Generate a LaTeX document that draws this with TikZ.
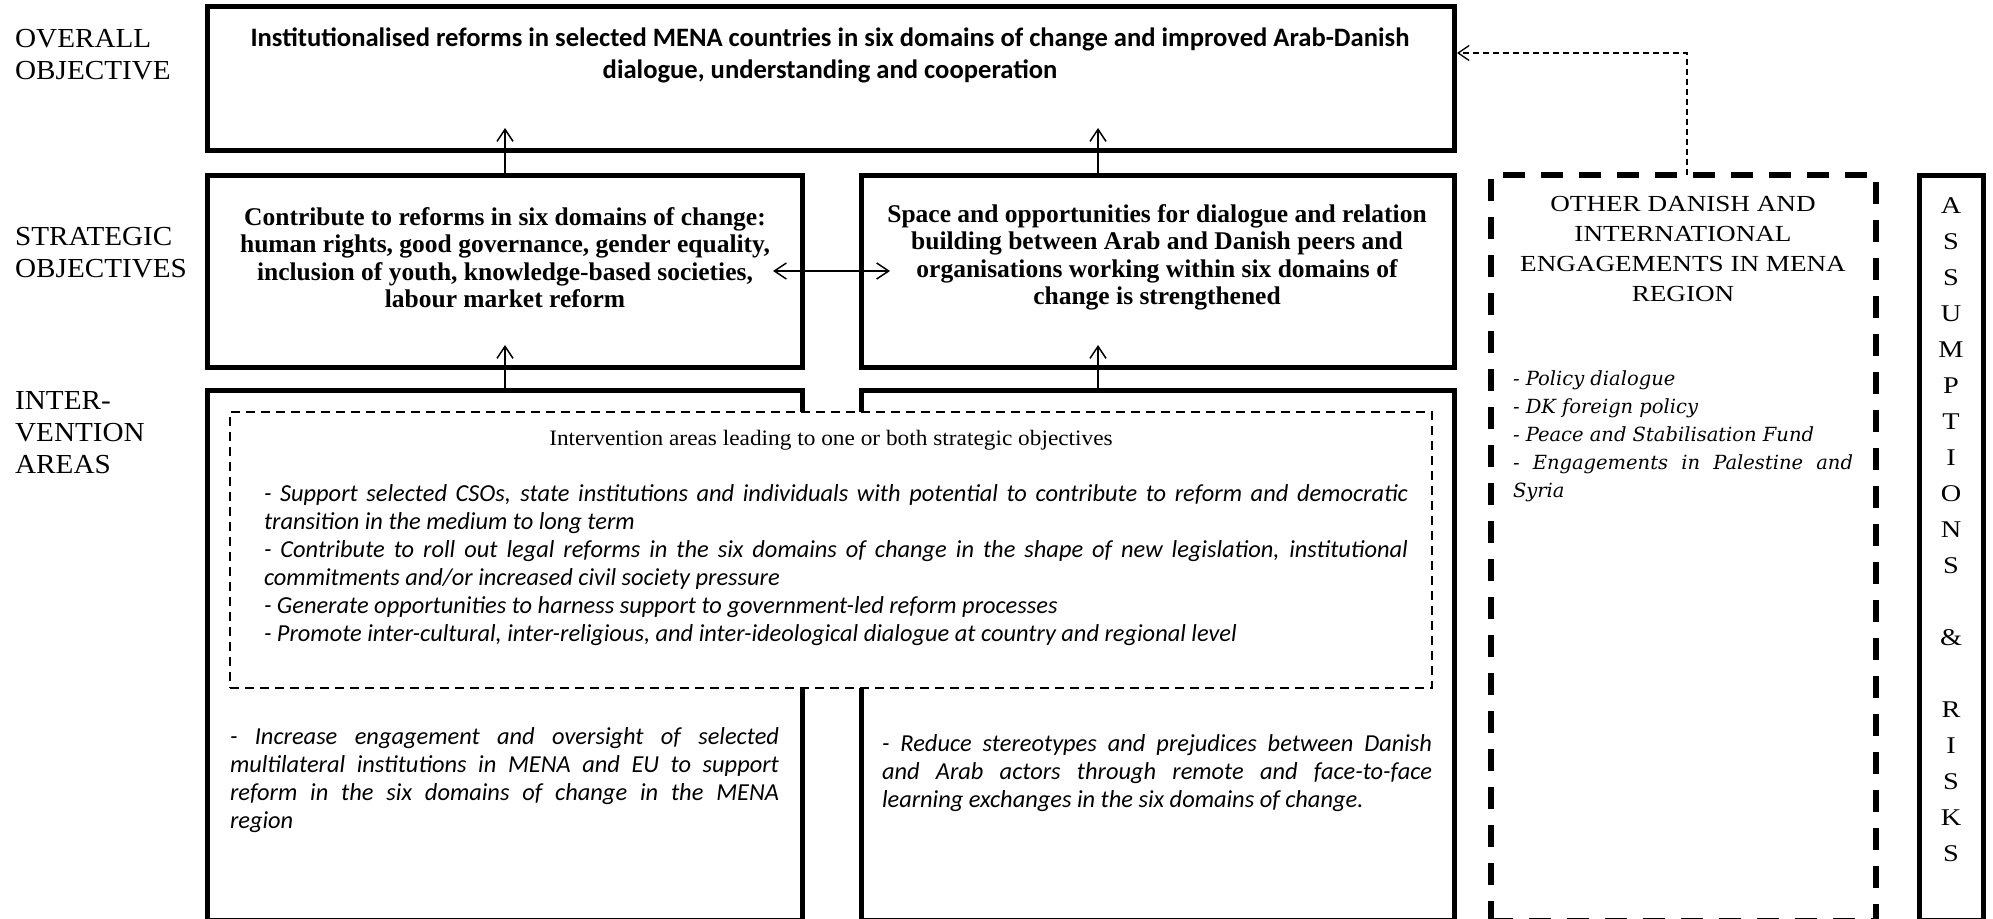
\documentclass[tikz,border=0pt]{standalone}
\usepackage{fontspec}
\setmainfont{Liberation Serif}
\newfontfamily\calfont{Carlito}
\newfontfamily\labfont{Liberation Serif}[FakeStretch=1.06]
\newfontfamily\headfont{Liberation Serif}[FakeStretch=1.06]
\newfontfamily\capfont{Liberation Serif}[FakeStretch=1.18]
\newfontfamily\listfont{DejaVu Serif}
\usetikzlibrary{arrows.meta,calc}
\setlength\parindent{0pt}
\hyphenpenalty=10000
\exhyphenpenalty=10000
\tolerance=9999

\begin{document}
\begin{tikzpicture}[x=1pt,y=-1pt,
  frame/.style={draw, line width=5pt, inner sep=0pt, outer sep=0pt, anchor=north west},
  dashframe/.style={draw, line width=2pt, dash pattern=on 9pt off 6pt, fill=white, inner sep=0pt, outer sep=0pt, anchor=north west},
  bigdash/.style={draw, line width=5.5pt, dash pattern=on 22pt off 16pt, inner sep=0pt, outer sep=0pt, anchor=north west},
  arr/.style={line width=1.5pt, -{Straight Barb[length=12pt,width=16pt,line width=1.5pt]}},
  arrboth/.style={line width=1.5pt, {Straight Barb[length=12pt,width=16pt,line width=1.5pt]}-{Straight Barb[length=12pt,width=16pt,line width=1.5pt]}},
  dconn/.style={line width=1.3pt, dash pattern=on 6pt off 4pt, -{Straight Barb[length=11pt,width=15pt,line width=1.3pt]}, shorten >=3pt},
  lab/.style={anchor=west, align=left, inner sep=0pt, font=\labfont\fontsize{27.5}{32}\selectfont},
  boldtxt/.style={align=center, inner sep=0pt, font=\calfont\bfseries\fontsize{26.6}{32}\selectfont},
  strtxt/.style={align=center, inner sep=0pt, font=\bfseries\fontsize{25.5}{27.5}\selectfont},
  ittxt/.style={align=justify, inner sep=0pt, font=\calfont\itshape\fontsize{24.4}{28}\selectfont},
  listtxt/.style={align=justify, inner sep=0pt, font=\listfont\itshape\fontsize{19.5}{28}\selectfont},
  captxt/.style={align=center, inner sep=0pt, font=\capfont\fontsize{23}{29.7}\selectfont}
]
\useasboundingbox (0,0) rectangle (1993,918);

% row labels
\node[lab] (l1) at (15,55) {OVERALL\\OBJECTIVE};
\node[lab] (l2) at (15,253) {STRATEGIC\\OBJECTIVES};
\node[lab] (l3) at (15,433) {INTER-\\VENTION\\AREAS};

% frames
\node[frame, minimum width=1247pt, minimum height=144pt] (ov) at (207,6) {};
\node[frame, minimum width=595pt, minimum height=192pt] (sl) at (207,175) {};
\node[frame, minimum width=593pt, minimum height=192pt] (sr) at (861,175) {};
\node[frame, minimum width=595pt, minimum height=530pt] (il) at (207,390) {};
\node[frame, minimum width=593pt, minimum height=530pt] (ir) at (861,390) {};
\node[dashframe, minimum width=1202pt, minimum height=276pt] (ia) at (230,412) {};
\node[bigdash, minimum width=385pt, minimum height=746pt] (ot) at (1491,175) {};
\node[frame, minimum width=64pt, minimum height=745pt] (as) at (1919,175) {};

% texts
\node[boldtxt] (ovt) at (830,55) {Institutionalised reforms in selected MENA countries in six domains of change and improved Arab-Danish\\dialogue, understanding and cooperation};
\node[strtxt] (slt) at (505,257.5) {Contribute to reforms in six domains of change:\\human rights, good governance, gender equality,\\inclusion of youth, knowledge-based societies,\\labour market reform};
\node[strtxt] (srt) at (1157,257.5) {Space and opportunities for dialogue and relation\\building between Arab and Danish peers and\\organisations working within six domains of\\change is strengthened};

\node[inner sep=0pt, font=\headfont\fontsize{22}{25}\selectfont] (iah) at (831,440) {Intervention areas leading to one or both strategic objectives};
\node[ittxt, text width=1144pt] (iat) at (836,565) {- Support selected CSOs, state institutions and individuals with potential to contribute to reform and democratic\linebreak transition in the medium to long term\par
- Contribute to roll out legal reforms in the six domains of change in the shape of new legislation, institutional\linebreak commitments and/or increased civil society pressure\par
- Generate opportunities to harness support to government-led reform processes\par
- Promote inter-cultural, inter-religious, and inter-ideological dialogue at country and regional level};

\node[ittxt, text width=549pt] (ilt) at (504.5,780) {- Increase engagement and oversight of selected\linebreak multilateral institutions in MENA and EU to support\linebreak reform in the six domains of change in the MENA\linebreak region};
\node[ittxt, text width=550pt] (irt) at (1157,773) {- Reduce stereotypes and prejudices between Danish\linebreak and Arab actors through remote and face-to-face\linebreak learning exchanges in the six domains of change.};

\node[captxt] (oth) at (1683,249) {OTHER DANISH AND\\INTERNATIONAL\\ENGAGEMENTS IN MENA\\REGION};
\node[listtxt, text width=340pt] (otl) at (1683,436) {- Policy dialogue\par
- DK foreign policy\par
- Peace and Stabilisation Fund\par
- Engagements in Palestine and\linebreak Syria};

\node[align=center, inner sep=0pt, font=\capfont\fontsize{24}{36}\selectfont] (ast) at (1951,530) {A\\S\\S\\U\\M\\P\\T\\I\\O\\N\\S\\\mbox{}\\\&\\\mbox{}\\R\\I\\S\\K\\S};

% connectors
\coordinate (xl) at (505,0);
\coordinate (xr) at (1098,0);
\coordinate (cj) at (1687,53);
\draw[arr] (sl.north -| xl) -- ($(ov.south -| xl)+(0,-22)$);
\draw[arr] (sr.north -| xr) -- ($(ov.south -| xr)+(0,-22)$);
\draw[arr] (il.north -| xl) -- ($(sl.south -| xl)+(0,-22)$);
\draw[arr] (ir.north -| xr) -- ($(sr.south -| xr)+(0,-22)$);
\draw[arrboth] ($(sl.east)+(-29,0)$) -- ($(sr.west)+(29,0)$);
\draw[dconn] (ot.north -| cj) |- (cj -| ov.east);
\end{tikzpicture}
\end{document}
